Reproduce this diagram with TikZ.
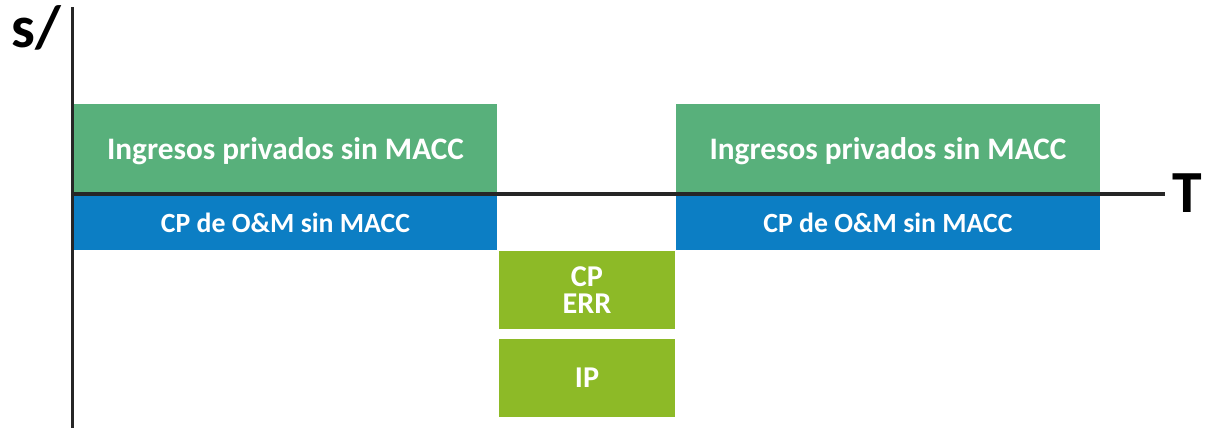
\documentclass[tikz,border=0pt]{standalone}
\usepackage{fontspec}
\setmainfont{Carlito}
\usepackage{tikz}
\usetikzlibrary{positioning}

\definecolor{revgreen}{RGB}{88,176,123}
\definecolor{costblue}{RGB}{12,126,196}
\definecolor{errgreen}{RGB}{141,186,39}
\definecolor{axisgray}{RGB}{38,38,38}

\begin{document}
\begin{tikzpicture}[
    revbox/.style={rectangle,fill=revgreen,text=white,font=\bfseries\fontsize{17.8}{20}\selectfont,
        text depth=0pt,minimum width=8.47cm,minimum height=1.78cm,inner sep=0pt,outer sep=0pt},
    costbox/.style={rectangle,fill=costblue,text=white,font=\bfseries\fontsize{15.8}{18}\selectfont,
        minimum width=8.47cm,minimum height=1.08cm,inner sep=0pt,outer sep=0pt},
    errbox/.style={rectangle,fill=errgreen,text=white,font=\bfseries\fontsize{17.2}{15.5}\selectfont,
        align=center,minimum width=3.52cm,minimum height=1.56cm,inner sep=0pt,outer sep=0pt},
    axis/.style={draw=axisgray,line width=1.8pt}]
        \useasboundingbox (0,0) rectangle (24.12,8.56);

        \node[revbox] (ing_1) at (5.71,5.59) {Ingresos privados sin MACC};
        \node[costbox] (om_1) [below=0.06cm of ing_1] {CP de O\&M sin MACC};

        \node[revbox] (ing_2) at (17.76,5.59) {Ingresos privados sin MACC};
        \node[costbox] (om_2) [below=0.06cm of ing_2] {CP de O\&M sin MACC};

        \node[errbox] (err) at (11.74,2.76) {CP\\ERR};
        \node[errbox] (ip) [below=0.2cm of err] {IP};

        % axes
        \coordinate (o) at (1.45,4.68);
        \coordinate (y_top) at (1.45,8.42);
        \coordinate (y_bot) at (1.45,0);
        \coordinate (x_end) at (23.3,4.68);

        \draw[axis] (y_top) -- (y_bot);
        \draw[axis] (o) -- (x_end);

        \node[font=\bfseries\fontsize{34}{34}\selectfont,inner sep=0pt] (t_lab) at (23.74,4.69) {T};
        \node[font=\bfseries\fontsize{34}{34}\selectfont,inner sep=0pt,anchor=base west] (s_lab) at (0.22,7.62) {s/};

    \end{tikzpicture}
\end{document}
